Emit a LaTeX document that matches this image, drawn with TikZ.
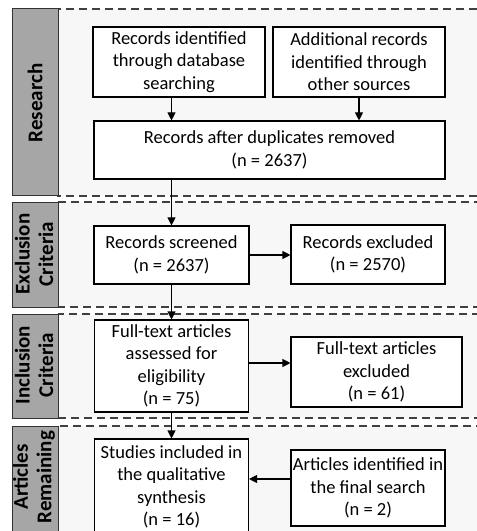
\documentclass[tikz,border=0pt]{standalone}
\usepackage{fontspec}
\setmainfont{Carlito}
\usetikzlibrary{arrows.meta}
\definecolor{bandgray}{RGB}{247,247,247}
\definecolor{stagegray}{RGB}{166,166,166}
\definecolor{dashgray}{RGB}{64,64,64}

\begin{document}
\begin{tikzpicture}[x=1bp, y=-1bp,
		band/.style={fill=bandgray, draw=dashgray, line width=1.1bp, dash pattern=on 8bp off 5bp},
		stage/.style={fill=stagegray, draw=black!80, line width=1bp},
		stagetext/.style={rotate=90, align=center, inner sep=0pt, font=\fontsize{21bp}{23.5bp}\selectfont\bfseries},
		box/.style={draw=black, fill=white, line width=1.1bp, align=center, inner sep=0pt, font=\fontsize{18.5bp}{22.5bp}\selectfont},
		arrow/.style={line width=1.1bp, -{Triangle[length=8bp, width=8bp]}}]
			\useasboundingbox (0,0) rectangle (477,531);
			
			\filldraw[band] (58,9) rectangle (490,196);
			\filldraw[band] (58,202) rectangle (490,307);
			\filldraw[band] (58,314) rectangle (490,418);
			\filldraw[band] (58,426) rectangle (490,545);
			
			\filldraw[stage] (12,9) rectangle (58,196);
			\filldraw[stage] (12,202) rectangle (58,307);
			\filldraw[stage] (12,314) rectangle (58,418);
			\filldraw[stage] (12,426) rectangle (58,545);
			\node[stagetext] (research) at (35,103) {Research};
			\node[stagetext] (exclusion) at (34,254) {Exclusion\\Criteria};
			\node[stagetext] (inclusion) at (34,365) {Inclusion\\Criteria};
			\node[stagetext] (remaining) at (34,477) {Articles\\Remaining};
			
			\node[box, minimum width=172bp, minimum height=70bp] (db) at (179,62) {Records identified\\through database\\searching};
			\node[box, minimum width=172bp, minimum height=70bp] (other) at (359,62) {Additional records\\identified through\\other sources};
			\node[box, minimum width=351bp, minimum height=58bp] (dedup) at (269.5,150) {Records after duplicates removed\\(n = 2637)};
			\node[box, minimum width=155bp, minimum height=58bp] (screened) at (171.5,255) {Records screened\\(n = 2637)};
			\node[box, minimum width=154bp, minimum height=59bp] (excluded) at (368,254.5) {Records excluded\\(n = 2570)};
			\node[box, minimum width=154bp, minimum height=92bp] (fulltext) at (171.5,366) {Full-text articles\\assessed for\\eligibility\\(n = 75)};
			\node[box, minimum width=171bp, minimum height=70bp] (ftexcl) at (376.5,372) {Full-text articles\\excluded\\(n = 61)};
			\node[box, minimum width=154bp, minimum height=96bp] (included) at (171.5,487) {Studies included in\\the qualitative\\synthesis\\(n = 16)};
			\node[box, minimum width=154bp, minimum height=76bp] (final) at (368,488) {Articles identified in\\the final search\\(n = 2)};
			
			\draw[arrow] (db.south -| screened.north) -- (dedup.north -| screened.north);
			\draw[arrow] (other.south) -- (dedup.north -| other.south);
			\draw[arrow] (dedup.south -| screened.north) -- (screened.north);
			\draw[arrow] (screened.east) -- (screened.east -| excluded.west);
			\draw[arrow] (screened.south) -- (fulltext.north);
			\draw[arrow] ([yshift=3bp]fulltext.east) -- ([yshift=3bp]fulltext.east -| ftexcl.west);
			\draw[arrow] (fulltext.south) -- (included.north);
			\draw[arrow] ([yshift=9bp]final.west) -- ([yshift=9bp]final.west -| included.east);
		\end{tikzpicture}
\end{document}
